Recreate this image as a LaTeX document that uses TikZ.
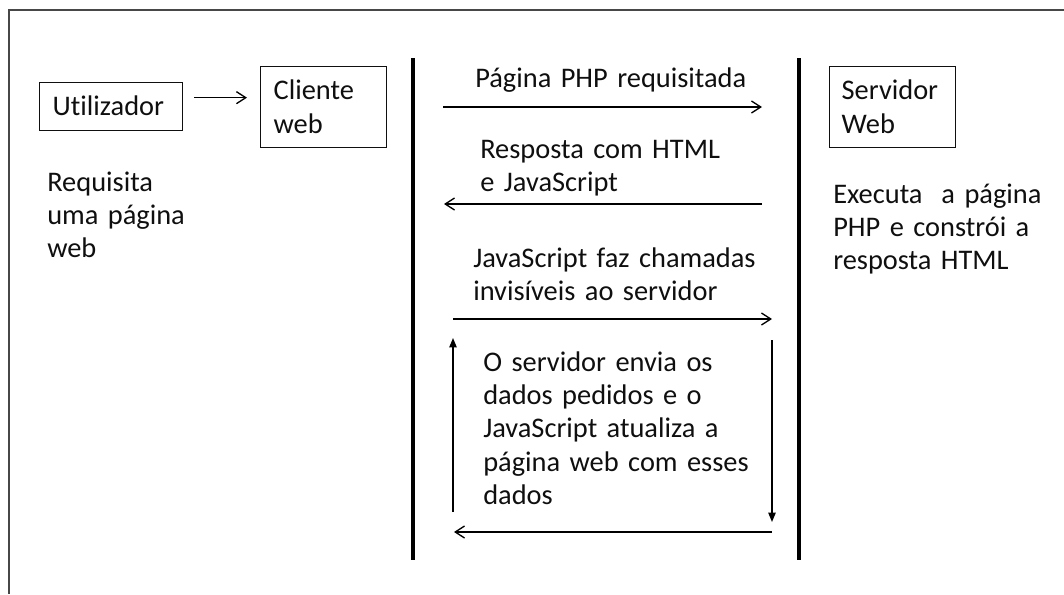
\documentclass[tikz,border=0pt]{standalone}
\usepackage{fontspec}
\setmainfont{Carlito}[Ligatures=NoCommon]
\usetikzlibrary{arrows.meta}
\definecolor{ink}{gray}{0.06}
\definecolor{framegray}{gray}{0.28}

\begin{document}
\begin{tikzpicture}[x=0.75pt,y=-0.75pt,
  every node/.style={font=\fontsize{21.3}{25.1}\selectfont, text=ink},
  box/.style={draw=ink, line width=1pt, anchor=north west, inner ysep=0pt, align=left},
  txt/.style={anchor=base west, inner sep=0pt, align=left},
  frameline/.style={draw=framegray, line width=1.6pt},
  lifeline/.style={draw=black, line width=2.5pt},
  msg/.style={draw=black, line width=1pt, -{Straight Barb[length=7pt,width=9pt]}},
  vmsg/.style={draw=black, line width=1pt, -{Triangle[length=7pt,width=5.5pt]}}]

\useasboundingbox (0,0) rectangle (1064,594);

% outer frame (top and left edges)
\draw[frameline] (1064,10) -- (9,10) -- (9,594);

% actors
\node[box, inner xsep=9.75pt, text width=87.75pt, text height=24.75pt, text depth=11.25pt] (user) at (39,82) {Utilizador};
\node[box, inner xsep=9.75pt, text width=75pt, text height=24.75pt, text depth=36pt] (client) at (260,66) {Cliente\\web};
\node[box, inner xsep=9pt, text width=76.5pt, text height=24.75pt, text depth=36pt] (server) at (829,66) {Servidor\\Web};

% descriptions under the actors
\node[txt, text width=150pt] (reqtext) at (47,191) {Requisita\\uma página\\web};
\node[txt, text width=170pt] (exetext) at (833,203) {Executa\ \ a página\\PHP e constrói a\\resposta HTML};

% lifelines
\coordinate (cTop) at (413,58);
\coordinate (cBot) at (413,560);
\coordinate (sTop) at (799,58);
\coordinate (sBot) at (799,560);
\draw[lifeline] (cTop) -- (cBot);
\draw[lifeline] (sTop) -- (sBot);

% user -> client
\draw[msg] ([shift={(11,-9)}]user.east) -- ([shift={(-13,-9.5)}]client.west);

% message labels
\node[txt, text width=240pt] (lab1) at (475,87) {Página PHP requisitada};
\node[txt, text width=240pt] (lab2) at (480,158) {Resposta com HTML\\e JavaScript};
\node[txt, text width=260pt] (lab3) at (473,267) {JavaScript faz chamadas\\invisíveis ao servidor};
\node[txt, text width=240pt] (lab4) at (483,371) {O servidor envia os\\dados pedidos e o\\JavaScript atualiza a\\página web com esses\\dados};

% message end points
\coordinate (m1a) at (443,107);
\coordinate (m1b) at (762,107);
\coordinate (m2a) at (762,204);
\coordinate (m2b) at (444,204);
\coordinate (m3a) at (453,319);
\coordinate (m3b) at (772,319);
\coordinate (dnA) at (772,340);
\coordinate (dnB) at (772,522);
\coordinate (m4a) at (772,532);
\coordinate (m4b) at (454,532);
\coordinate (upA) at (453,512);
\coordinate (upB) at (453,338);

\draw[msg] (m1a) -- (m1b);
\draw[msg] (m2a) -- (m2b);
\draw[msg] (m3a) -- (m3b);
\draw[vmsg] (dnA) -- (dnB);
\draw[msg] (m4a) -- (m4b);
\draw[vmsg] (upA) -- (upB);

\end{tikzpicture}
\end{document}
